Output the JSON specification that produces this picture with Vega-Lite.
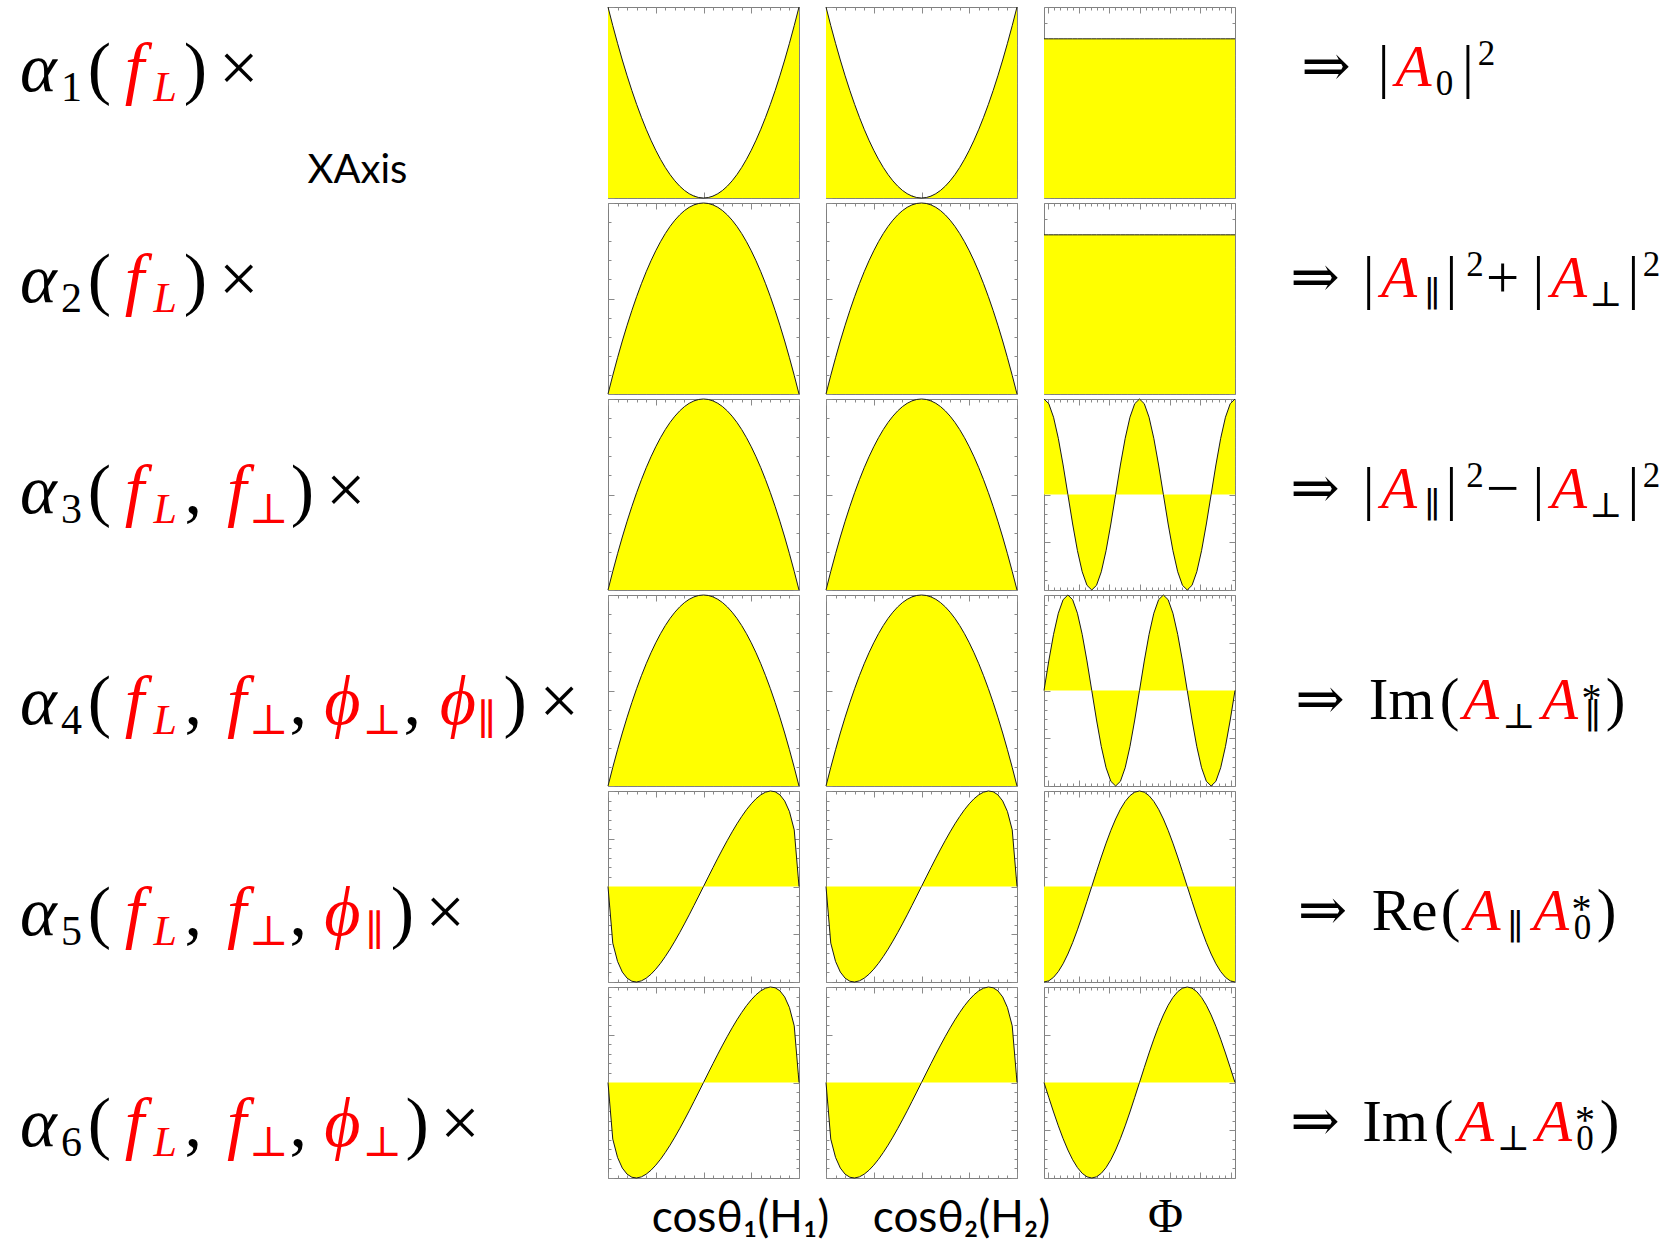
{
  "$schema": "https://vega.github.io/schema/vega-lite/v6.json",
  "padding": {"left": 0, "top": 4, "right": 0, "bottom": 0},
  "background": "white",
  "datasets": {
    "curves": [
      {"x":-1,"phi":-3.1416,"sq":1,"om":0,"st":0,"c2":1,"s2":0,"c1":-1,"s1":0,"one":1},
      {"x":-0.95,"phi":-2.9845,"sq":0.9025,"om":0.0975,"st":-0.593,"c2":0.951,"s2":0.309,"c1":-0.988,"s1":-0.156,"one":1},
      {"x":-0.9,"phi":-2.8274,"sq":0.81,"om":0.19,"st":-0.785,"c2":0.809,"s2":0.588,"c1":-0.951,"s1":-0.309,"one":1},
      {"x":-0.85,"phi":-2.6704,"sq":0.7225,"om":0.2775,"st":-0.896,"c2":0.588,"s2":0.809,"c1":-0.891,"s1":-0.454,"one":1},
      {"x":-0.8,"phi":-2.5133,"sq":0.64,"om":0.36,"st":-0.96,"c2":0.309,"s2":0.951,"c1":-0.809,"s1":-0.588,"one":1},
      {"x":-0.75,"phi":-2.3562,"sq":0.5625,"om":0.4375,"st":-0.992,"c2":0,"s2":1,"c1":-0.707,"s1":-0.707,"one":1},
      {"x":-0.7,"phi":-2.1991,"sq":0.49,"om":0.51,"st":-1,"c2":-0.309,"s2":0.951,"c1":-0.588,"s1":-0.809,"one":1},
      {"x":-0.65,"phi":-2.042,"sq":0.4225,"om":0.5775,"st":-0.988,"c2":-0.588,"s2":0.809,"c1":-0.454,"s1":-0.891,"one":1},
      {"x":-0.6,"phi":-1.885,"sq":0.36,"om":0.64,"st":-0.96,"c2":-0.809,"s2":0.588,"c1":-0.309,"s1":-0.951,"one":1},
      {"x":-0.55,"phi":-1.7279,"sq":0.3025,"om":0.6975,"st":-0.919,"c2":-0.951,"s2":0.309,"c1":-0.156,"s1":-0.988,"one":1},
      {"x":-0.5,"phi":-1.5708,"sq":0.25,"om":0.75,"st":-0.866,"c2":-1,"s2":0,"c1":0,"s1":-1,"one":1},
      {"x":-0.45,"phi":-1.4137,"sq":0.2025,"om":0.7975,"st":-0.804,"c2":-0.951,"s2":-0.309,"c1":0.156,"s1":-0.988,"one":1},
      {"x":-0.4,"phi":-1.2566,"sq":0.16,"om":0.84,"st":-0.733,"c2":-0.809,"s2":-0.588,"c1":0.309,"s1":-0.951,"one":1},
      {"x":-0.35,"phi":-1.0996,"sq":0.1225,"om":0.8775,"st":-0.656,"c2":-0.588,"s2":-0.809,"c1":0.454,"s1":-0.891,"one":1},
      {"x":-0.3,"phi":-0.9425,"sq":0.09,"om":0.91,"st":-0.572,"c2":-0.309,"s2":-0.951,"c1":0.588,"s1":-0.809,"one":1},
      {"x":-0.25,"phi":-0.7854,"sq":0.0625,"om":0.9375,"st":-0.484,"c2":0,"s2":-1,"c1":0.707,"s1":-0.707,"one":1},
      {"x":-0.2,"phi":-0.6283,"sq":0.04,"om":0.96,"st":-0.392,"c2":0.309,"s2":-0.951,"c1":0.809,"s1":-0.588,"one":1},
      {"x":-0.15,"phi":-0.4712,"sq":0.0225,"om":0.9775,"st":-0.297,"c2":0.588,"s2":-0.809,"c1":0.891,"s1":-0.454,"one":1},
      {"x":-0.1,"phi":-0.3142,"sq":0.01,"om":0.99,"st":-0.199,"c2":0.809,"s2":-0.588,"c1":0.951,"s1":-0.309,"one":1},
      {"x":-0.05,"phi":-0.1571,"sq":0.0025,"om":0.9975,"st":-0.1,"c2":0.951,"s2":-0.309,"c1":0.988,"s1":-0.156,"one":1},
      {"x":0,"phi":0,"sq":0,"om":1,"st":0,"c2":1,"s2":0,"c1":1,"s1":0,"one":1},
      {"x":0.05,"phi":0.1571,"sq":0.0025,"om":0.9975,"st":0.1,"c2":0.951,"s2":0.309,"c1":0.988,"s1":0.156,"one":1},
      {"x":0.1,"phi":0.3142,"sq":0.01,"om":0.99,"st":0.199,"c2":0.809,"s2":0.588,"c1":0.951,"s1":0.309,"one":1},
      {"x":0.15,"phi":0.4712,"sq":0.0225,"om":0.9775,"st":0.297,"c2":0.588,"s2":0.809,"c1":0.891,"s1":0.454,"one":1},
      {"x":0.2,"phi":0.6283,"sq":0.04,"om":0.96,"st":0.392,"c2":0.309,"s2":0.951,"c1":0.809,"s1":0.588,"one":1},
      {"x":0.25,"phi":0.7854,"sq":0.0625,"om":0.9375,"st":0.484,"c2":0,"s2":1,"c1":0.707,"s1":0.707,"one":1},
      {"x":0.3,"phi":0.9425,"sq":0.09,"om":0.91,"st":0.572,"c2":-0.309,"s2":0.951,"c1":0.588,"s1":0.809,"one":1},
      {"x":0.35,"phi":1.0996,"sq":0.1225,"om":0.8775,"st":0.656,"c2":-0.588,"s2":0.809,"c1":0.454,"s1":0.891,"one":1},
      {"x":0.4,"phi":1.2566,"sq":0.16,"om":0.84,"st":0.733,"c2":-0.809,"s2":0.588,"c1":0.309,"s1":0.951,"one":1},
      {"x":0.45,"phi":1.4137,"sq":0.2025,"om":0.7975,"st":0.804,"c2":-0.951,"s2":0.309,"c1":0.156,"s1":0.988,"one":1},
      {"x":0.5,"phi":1.5708,"sq":0.25,"om":0.75,"st":0.866,"c2":-1,"s2":0,"c1":0,"s1":1,"one":1},
      {"x":0.55,"phi":1.7279,"sq":0.3025,"om":0.6975,"st":0.919,"c2":-0.951,"s2":-0.309,"c1":-0.156,"s1":0.988,"one":1},
      {"x":0.6,"phi":1.885,"sq":0.36,"om":0.64,"st":0.96,"c2":-0.809,"s2":-0.588,"c1":-0.309,"s1":0.951,"one":1},
      {"x":0.65,"phi":2.042,"sq":0.4225,"om":0.5775,"st":0.988,"c2":-0.588,"s2":-0.809,"c1":-0.454,"s1":0.891,"one":1},
      {"x":0.7,"phi":2.1991,"sq":0.49,"om":0.51,"st":1,"c2":-0.309,"s2":-0.951,"c1":-0.588,"s1":0.809,"one":1},
      {"x":0.75,"phi":2.3562,"sq":0.5625,"om":0.4375,"st":0.992,"c2":0,"s2":-1,"c1":-0.707,"s1":0.707,"one":1},
      {"x":0.8,"phi":2.5133,"sq":0.64,"om":0.36,"st":0.96,"c2":0.309,"s2":-0.951,"c1":-0.809,"s1":0.588,"one":1},
      {"x":0.85,"phi":2.6704,"sq":0.7225,"om":0.2775,"st":0.896,"c2":0.588,"s2":-0.809,"c1":-0.891,"s1":0.454,"one":1},
      {"x":0.9,"phi":2.8274,"sq":0.81,"om":0.19,"st":0.785,"c2":0.809,"s2":-0.588,"c1":-0.951,"s1":0.309,"one":1},
      {"x":0.95,"phi":2.9845,"sq":0.9025,"om":0.0975,"st":0.593,"c2":0.951,"s2":-0.309,"c1":-0.988,"s1":0.156,"one":1},
      {"x":1,"phi":3.1416,"sq":1,"om":0,"st":0,"c2":1,"s2":0,"c1":-1,"s1":0,"one":1}
    ],
    "labels": [
      {"side":"L","line":1,"pos":0.55,"t":"α","role":"it","hue":"k"},
      {"side":"L","line":1,"pos":1.02,"t":"1","role":"sub","hue":"k"},
      {"side":"L","line":1,"pos":1.42,"t":"(","role":"rm","hue":"k"},
      {"side":"L","line":1,"pos":1.92,"t":"f","role":"it","hue":"p"},
      {"side":"L","line":1,"pos":2.36,"t":"L","role":"subit","hue":"p"},
      {"side":"L","line":1,"pos":2.79,"t":")","role":"rm","hue":"k"},
      {"side":"L","line":1,"pos":3.41,"t":"×","role":"rm","hue":"k"},
      {"side":"L","line":1.436,"pos":5.107,"t":"XAxis","role":"note","hue":"k"},

      {"side":"L","line":2,"pos":0.55,"t":"α","role":"it","hue":"k"},
      {"side":"L","line":2,"pos":1.02,"t":"2","role":"sub","hue":"k"},
      {"side":"L","line":2,"pos":1.42,"t":"(","role":"rm","hue":"k"},
      {"side":"L","line":2,"pos":1.92,"t":"f","role":"it","hue":"p"},
      {"side":"L","line":2,"pos":2.36,"t":"L","role":"subit","hue":"p"},
      {"side":"L","line":2,"pos":2.79,"t":")","role":"rm","hue":"k"},
      {"side":"L","line":2,"pos":3.41,"t":"×","role":"rm","hue":"k"},

      {"side":"L","line":3,"pos":0.55,"t":"α","role":"it","hue":"k"},
      {"side":"L","line":3,"pos":1.02,"t":"3","role":"sub","hue":"k"},
      {"side":"L","line":3,"pos":1.42,"t":"(","role":"rm","hue":"k"},
      {"side":"L","line":3,"pos":1.92,"t":"f","role":"it","hue":"p"},
      {"side":"L","line":3,"pos":2.36,"t":"L","role":"subit","hue":"p"},
      {"side":"L","line":3,"pos":2.76,"t":",","role":"rm","hue":"k"},
      {"side":"L","line":3,"pos":3.38,"t":"f","role":"it","hue":"p"},
      {"side":"L","line":3,"pos":3.84,"t":"⊥","role":"sub","hue":"p"},
      {"side":"L","line":3,"pos":4.32,"t":")","role":"rm","hue":"k"},
      {"side":"L","line":3,"pos":4.94,"t":"×","role":"rm","hue":"k"},

      {"side":"L","line":4,"pos":0.55,"t":"α","role":"it","hue":"k"},
      {"side":"L","line":4,"pos":1.02,"t":"4","role":"sub","hue":"k"},
      {"side":"L","line":4,"pos":1.42,"t":"(","role":"rm","hue":"k"},
      {"side":"L","line":4,"pos":1.92,"t":"f","role":"it","hue":"p"},
      {"side":"L","line":4,"pos":2.36,"t":"L","role":"subit","hue":"p"},
      {"side":"L","line":4,"pos":2.76,"t":",","role":"rm","hue":"k"},
      {"side":"L","line":4,"pos":3.38,"t":"f","role":"it","hue":"p"},
      {"side":"L","line":4,"pos":3.84,"t":"⊥","role":"sub","hue":"p"},
      {"side":"L","line":4,"pos":4.26,"t":",","role":"rm","hue":"k"},
      {"side":"L","line":4,"pos":4.89,"t":"ϕ","role":"it","hue":"p"},
      {"side":"L","line":4,"pos":5.46,"t":"⊥","role":"sub","hue":"p"},
      {"side":"L","line":4,"pos":5.89,"t":",","role":"rm","hue":"k"},
      {"side":"L","line":4,"pos":6.54,"t":"ϕ","role":"it","hue":"p"},
      {"side":"L","line":4,"pos":6.95,"t":"∥","role":"sub","hue":"p"},
      {"side":"L","line":4,"pos":7.36,"t":")","role":"rm","hue":"k"},
      {"side":"L","line":4,"pos":7.99,"t":"×","role":"rm","hue":"k"},

      {"side":"L","line":5,"pos":0.55,"t":"α","role":"it","hue":"k"},
      {"side":"L","line":5,"pos":1.02,"t":"5","role":"sub","hue":"k"},
      {"side":"L","line":5,"pos":1.42,"t":"(","role":"rm","hue":"k"},
      {"side":"L","line":5,"pos":1.92,"t":"f","role":"it","hue":"p"},
      {"side":"L","line":5,"pos":2.36,"t":"L","role":"subit","hue":"p"},
      {"side":"L","line":5,"pos":2.76,"t":",","role":"rm","hue":"k"},
      {"side":"L","line":5,"pos":3.38,"t":"f","role":"it","hue":"p"},
      {"side":"L","line":5,"pos":3.84,"t":"⊥","role":"sub","hue":"p"},
      {"side":"L","line":5,"pos":4.26,"t":",","role":"rm","hue":"k"},
      {"side":"L","line":5,"pos":4.89,"t":"ϕ","role":"it","hue":"p"},
      {"side":"L","line":5,"pos":5.35,"t":"∥","role":"sub","hue":"p"},
      {"side":"L","line":5,"pos":5.75,"t":")","role":"rm","hue":"k"},
      {"side":"L","line":5,"pos":6.36,"t":"×","role":"rm","hue":"k"},

      {"side":"L","line":6,"pos":0.55,"t":"α","role":"it","hue":"k"},
      {"side":"L","line":6,"pos":1.02,"t":"6","role":"sub","hue":"k"},
      {"side":"L","line":6,"pos":1.42,"t":"(","role":"rm","hue":"k"},
      {"side":"L","line":6,"pos":1.92,"t":"f","role":"it","hue":"p"},
      {"side":"L","line":6,"pos":2.36,"t":"L","role":"subit","hue":"p"},
      {"side":"L","line":6,"pos":2.76,"t":",","role":"rm","hue":"k"},
      {"side":"L","line":6,"pos":3.38,"t":"f","role":"it","hue":"p"},
      {"side":"L","line":6,"pos":3.84,"t":"⊥","role":"sub","hue":"p"},
      {"side":"L","line":6,"pos":4.26,"t":",","role":"rm","hue":"k"},
      {"side":"L","line":6,"pos":4.89,"t":"ϕ","role":"it","hue":"p"},
      {"side":"L","line":6,"pos":5.46,"t":"⊥","role":"sub","hue":"p"},
      {"side":"L","line":6,"pos":5.96,"t":")","role":"rm","hue":"k"},
      {"side":"L","line":6,"pos":6.57,"t":"×","role":"rm","hue":"k"},

      {"side":"R","line":1,"pos":1.542,"t":"⇒","role":"rm","hue":"k"},
      {"side":"R","line":1,"pos":2.517,"t":"|","role":"rm","hue":"k"},
      {"side":"R","line":1,"pos":3.025,"t":"A","role":"it","hue":"p"},
      {"side":"R","line":1,"pos":3.551,"t":"0","role":"sub","hue":"k"},
      {"side":"R","line":1,"pos":3.949,"t":"|","role":"rm","hue":"k"},
      {"side":"R","line":1,"pos":4.263,"t":"2","role":"sup","hue":"k"},

      {"side":"R","line":2,"pos":1.356,"t":"⇒","role":"rm","hue":"k"},
      {"side":"R","line":2,"pos":2.263,"t":"|","role":"rm","hue":"k"},
      {"side":"R","line":2,"pos":2.78,"t":"A","role":"it","hue":"p"},
      {"side":"R","line":2,"pos":3.339,"t":"∥","role":"sub","hue":"k"},
      {"side":"R","line":2,"pos":3.669,"t":"|","role":"rm","hue":"k"},
      {"side":"R","line":2,"pos":4.068,"t":"2","role":"sup","hue":"k"},
      {"side":"R","line":2,"pos":4.534,"t":"+","role":"rm","hue":"k"},
      {"side":"R","line":2,"pos":5.144,"t":"|","role":"rm","hue":"k"},
      {"side":"R","line":2,"pos":5.661,"t":"A","role":"it","hue":"p"},
      {"side":"R","line":2,"pos":6.288,"t":"⊥","role":"sub","hue":"k"},
      {"side":"R","line":2,"pos":6.754,"t":"|","role":"rm","hue":"k"},
      {"side":"R","line":2,"pos":7.059,"t":"2","role":"sup","hue":"k"},

      {"side":"R","line":3,"pos":1.356,"t":"⇒","role":"rm","hue":"k"},
      {"side":"R","line":3,"pos":2.263,"t":"|","role":"rm","hue":"k"},
      {"side":"R","line":3,"pos":2.78,"t":"A","role":"it","hue":"p"},
      {"side":"R","line":3,"pos":3.339,"t":"∥","role":"sub","hue":"k"},
      {"side":"R","line":3,"pos":3.669,"t":"|","role":"rm","hue":"k"},
      {"side":"R","line":3,"pos":4.068,"t":"2","role":"sup","hue":"k"},
      {"side":"R","line":3,"pos":4.534,"t":"−","role":"rm","hue":"k"},
      {"side":"R","line":3,"pos":5.144,"t":"|","role":"rm","hue":"k"},
      {"side":"R","line":3,"pos":5.661,"t":"A","role":"it","hue":"p"},
      {"side":"R","line":3,"pos":6.288,"t":"⊥","role":"sub","hue":"k"},
      {"side":"R","line":3,"pos":6.754,"t":"|","role":"rm","hue":"k"},
      {"side":"R","line":3,"pos":7.059,"t":"2","role":"sup","hue":"k"},

      {"side":"R","line":4,"pos":1.441,"t":"⇒","role":"rm","hue":"k"},
      {"side":"R","line":4,"pos":2.822,"t":"Im","role":"rm","hue":"k"},
      {"side":"R","line":4,"pos":3.636,"t":"(","role":"rm","hue":"k"},
      {"side":"R","line":4,"pos":4.169,"t":"A","role":"it","hue":"p"},
      {"side":"R","line":4,"pos":4.814,"t":"⊥","role":"sub","hue":"k"},
      {"side":"R","line":4,"pos":5.508,"t":"A","role":"it","hue":"p"},
      {"side":"R","line":4,"pos":6.042,"t":"*","role":"star","hue":"k"},
      {"side":"R","line":4,"pos":6.059,"t":"∥","role":"sub","hue":"k"},
      {"side":"R","line":4,"pos":6.449,"t":")","role":"rm","hue":"k"},

      {"side":"R","line":5,"pos":1.483,"t":"⇒","role":"rm","hue":"k"},
      {"side":"R","line":5,"pos":2.873,"t":"Re","role":"rm","hue":"k"},
      {"side":"R","line":5,"pos":3.653,"t":"(","role":"rm","hue":"k"},
      {"side":"R","line":5,"pos":4.195,"t":"A","role":"it","hue":"p"},
      {"side":"R","line":5,"pos":4.746,"t":"∥","role":"sub","hue":"k"},
      {"side":"R","line":5,"pos":5.356,"t":"A","role":"it","hue":"p"},
      {"side":"R","line":5,"pos":5.873,"t":"*","role":"star","hue":"k"},
      {"side":"R","line":5,"pos":5.89,"t":"0","role":"sub","hue":"k"},
      {"side":"R","line":5,"pos":6.297,"t":")","role":"rm","hue":"k"},

      {"side":"R","line":6,"pos":1.356,"t":"⇒","role":"rm","hue":"k"},
      {"side":"R","line":6,"pos":2.712,"t":"Im","role":"rm","hue":"k"},
      {"side":"R","line":6,"pos":3.534,"t":"(","role":"rm","hue":"k"},
      {"side":"R","line":6,"pos":4.085,"t":"A","role":"it","hue":"p"},
      {"side":"R","line":6,"pos":4.72,"t":"⊥","role":"sub","hue":"k"},
      {"side":"R","line":6,"pos":5.407,"t":"A","role":"it","hue":"p"},
      {"side":"R","line":6,"pos":5.932,"t":"*","role":"star","hue":"k"},
      {"side":"R","line":6,"pos":5.932,"t":"0","role":"sub","hue":"k"},
      {"side":"R","line":6,"pos":6.347,"t":")","role":"rm","hue":"k"}
    ]
  },
  "spacing": 0,
  "hconcat": [
    {
      "width": 605,
      "height": 1229,
      "view": {"stroke": null},
      "data": {"name": "labels"},
      "transform": [{"filter": "datum.side === 'L'"}],
      "encoding": {
        "x": {"field": "pos", "type": "quantitative", "scale": {"domain": [0, 8.643], "nice": false, "zero": false}, "axis": null},
        "y": {"field": "line", "type": "quantitative", "scale": {"domain": [0.602, 6.427], "nice": false, "zero": false, "reverse": true}, "axis": null},
        "color": {"field": "hue", "type": "nominal", "scale": {"domain": ["k", "p"], "range": ["#000000", "#ff0000"]}, "legend": null},
        "text": {"field": "t"}
      },
      "layer": [
        {"transform": [{"filter": "datum.role === 'it'"}], "mark": {"type": "text", "font": "Liberation Serif, DejaVu Serif", "fontStyle": "italic", "fontSize": 70, "align": "center", "baseline": "alphabetic"}},
        {"transform": [{"filter": "datum.role === 'rm'"}], "mark": {"type": "text", "font": "Liberation Serif, DejaVu Serif", "fontSize": 70, "align": "center", "baseline": "alphabetic"}},
        {"transform": [{"filter": "datum.role === 'subit'"}], "mark": {"type": "text", "font": "Liberation Serif, DejaVu Serif", "fontStyle": "italic", "fontSize": 42, "dy": 10, "align": "center", "baseline": "alphabetic"}},
        {"transform": [{"filter": "datum.role === 'sub'"}], "mark": {"type": "text", "font": "Liberation Serif, DejaVu Serif", "fontSize": 42, "dy": 10, "align": "center", "baseline": "alphabetic"}},
        {"transform": [{"filter": "datum.role === 'note'"}], "mark": {"type": "text", "font": "Lato", "fontSize": 40, "align": "center", "baseline": "alphabetic"}}
      ]
    },
    {
      "data": {"name": "curves"},
      "columns": 3,
      "bounds": "flush",
      "spacing": {"row": 5, "column": 27},
      "concat": [
        {"width": 191, "height": 191, "layer": [
          {"mark": {"type": "area", "color": "#ffff00"}, "encoding": {
            "x": {"field": "x", "type": "quantitative", "scale": {"domain": [-1, 1], "nice": false, "zero": false}, "axis": {"orient": "bottom", "title": null}},
            "y": {"field": "sq", "type": "quantitative", "scale": {"domain": [0, 1], "nice": false, "zero": false}, "axis": {"orient": "left", "title": null, "tickCount": 10}}}},
          {"mark": {"type": "line", "color": "#1a1a1a", "strokeWidth": 1}, "encoding": {
            "x": {"field": "x", "type": "quantitative", "axis": {"orient": "top", "title": null}},
            "y": {"field": "sq", "type": "quantitative", "axis": {"orient": "right", "title": null, "tickCount": 10}}}}
        ], "resolve": {"axis": {"x": "independent", "y": "independent"}}},
        {"width": 191, "height": 191, "layer": [
          {"mark": {"type": "area", "color": "#ffff00"}, "encoding": {
            "x": {"field": "x", "type": "quantitative", "scale": {"domain": [-1, 1], "nice": false, "zero": false}, "axis": {"orient": "bottom", "title": null}},
            "y": {"field": "sq", "type": "quantitative", "scale": {"domain": [0, 1], "nice": false, "zero": false}, "axis": {"orient": "left", "title": null, "tickCount": 10}}}},
          {"mark": {"type": "line", "color": "#1a1a1a", "strokeWidth": 1}, "encoding": {
            "x": {"field": "x", "type": "quantitative", "axis": {"orient": "top", "title": null}},
            "y": {"field": "sq", "type": "quantitative", "axis": {"orient": "right", "title": null, "tickCount": 10}}}}
        ], "resolve": {"axis": {"x": "independent", "y": "independent"}}},
        {"width": 191, "height": 191, "layer": [
          {"mark": {"type": "area", "color": "#ffff00"}, "encoding": {
            "x": {"field": "phi", "type": "quantitative", "scale": {"domain": [-3.1416, 3.1416], "nice": false, "zero": false}, "axis": {"orient": "bottom", "title": null}},
            "y": {"field": "one", "type": "quantitative", "scale": {"domain": [0, 1.2], "nice": false, "zero": false}, "axis": {"orient": "left", "title": null, "tickCount": 12}}}},
          {"mark": {"type": "line", "color": "#1a1a1a", "strokeWidth": 1}, "encoding": {
            "x": {"field": "phi", "type": "quantitative", "axis": {"orient": "top", "title": null}},
            "y": {"field": "one", "type": "quantitative", "axis": {"orient": "right", "title": null, "tickCount": 12}}}}
        ], "resolve": {"axis": {"x": "independent", "y": "independent"}}},

        {"width": 191, "height": 191, "layer": [
          {"mark": {"type": "area", "color": "#ffff00"}, "encoding": {
            "x": {"field": "x", "type": "quantitative", "scale": {"domain": [-1, 1], "nice": false, "zero": false}, "axis": {"orient": "bottom", "title": null}},
            "y": {"field": "om", "type": "quantitative", "scale": {"domain": [0, 1], "nice": false, "zero": false}, "axis": {"orient": "left", "title": null, "tickCount": 10}}}},
          {"mark": {"type": "line", "color": "#1a1a1a", "strokeWidth": 1}, "encoding": {
            "x": {"field": "x", "type": "quantitative", "axis": {"orient": "top", "title": null}},
            "y": {"field": "om", "type": "quantitative", "axis": {"orient": "right", "title": null, "tickCount": 10}}}}
        ], "resolve": {"axis": {"x": "independent", "y": "independent"}}},
        {"width": 191, "height": 191, "layer": [
          {"mark": {"type": "area", "color": "#ffff00"}, "encoding": {
            "x": {"field": "x", "type": "quantitative", "scale": {"domain": [-1, 1], "nice": false, "zero": false}, "axis": {"orient": "bottom", "title": null}},
            "y": {"field": "om", "type": "quantitative", "scale": {"domain": [0, 1], "nice": false, "zero": false}, "axis": {"orient": "left", "title": null, "tickCount": 10}}}},
          {"mark": {"type": "line", "color": "#1a1a1a", "strokeWidth": 1}, "encoding": {
            "x": {"field": "x", "type": "quantitative", "axis": {"orient": "top", "title": null}},
            "y": {"field": "om", "type": "quantitative", "axis": {"orient": "right", "title": null, "tickCount": 10}}}}
        ], "resolve": {"axis": {"x": "independent", "y": "independent"}}},
        {"width": 191, "height": 191, "layer": [
          {"mark": {"type": "area", "color": "#ffff00"}, "encoding": {
            "x": {"field": "phi", "type": "quantitative", "scale": {"domain": [-3.1416, 3.1416], "nice": false, "zero": false}, "axis": {"orient": "bottom", "title": null}},
            "y": {"field": "one", "type": "quantitative", "scale": {"domain": [0, 1.2], "nice": false, "zero": false}, "axis": {"orient": "left", "title": null, "tickCount": 12}}}},
          {"mark": {"type": "line", "color": "#1a1a1a", "strokeWidth": 1}, "encoding": {
            "x": {"field": "phi", "type": "quantitative", "axis": {"orient": "top", "title": null}},
            "y": {"field": "one", "type": "quantitative", "axis": {"orient": "right", "title": null, "tickCount": 12}}}}
        ], "resolve": {"axis": {"x": "independent", "y": "independent"}}},

        {"width": 191, "height": 191, "layer": [
          {"mark": {"type": "area", "color": "#ffff00"}, "encoding": {
            "x": {"field": "x", "type": "quantitative", "scale": {"domain": [-1, 1], "nice": false, "zero": false}, "axis": {"orient": "bottom", "title": null}},
            "y": {"field": "om", "type": "quantitative", "scale": {"domain": [0, 1], "nice": false, "zero": false}, "axis": {"orient": "left", "title": null, "tickCount": 10}}}},
          {"mark": {"type": "line", "color": "#1a1a1a", "strokeWidth": 1}, "encoding": {
            "x": {"field": "x", "type": "quantitative", "axis": {"orient": "top", "title": null}},
            "y": {"field": "om", "type": "quantitative", "axis": {"orient": "right", "title": null, "tickCount": 10}}}}
        ], "resolve": {"axis": {"x": "independent", "y": "independent"}}},
        {"width": 191, "height": 191, "layer": [
          {"mark": {"type": "area", "color": "#ffff00"}, "encoding": {
            "x": {"field": "x", "type": "quantitative", "scale": {"domain": [-1, 1], "nice": false, "zero": false}, "axis": {"orient": "bottom", "title": null}},
            "y": {"field": "om", "type": "quantitative", "scale": {"domain": [0, 1], "nice": false, "zero": false}, "axis": {"orient": "left", "title": null, "tickCount": 10}}}},
          {"mark": {"type": "line", "color": "#1a1a1a", "strokeWidth": 1}, "encoding": {
            "x": {"field": "x", "type": "quantitative", "axis": {"orient": "top", "title": null}},
            "y": {"field": "om", "type": "quantitative", "axis": {"orient": "right", "title": null, "tickCount": 10}}}}
        ], "resolve": {"axis": {"x": "independent", "y": "independent"}}},
        {"width": 191, "height": 191, "layer": [
          {"mark": {"type": "area", "color": "#ffff00"}, "encoding": {
            "x": {"field": "phi", "type": "quantitative", "scale": {"domain": [-3.1416, 3.1416], "nice": false, "zero": false}, "axis": {"orient": "bottom", "title": null}},
            "y": {"field": "c2", "type": "quantitative", "scale": {"domain": [-1, 1], "nice": false, "zero": false}, "axis": {"orient": "left", "title": null}}}},
          {"mark": {"type": "line", "color": "#1a1a1a", "strokeWidth": 1}, "encoding": {
            "x": {"field": "phi", "type": "quantitative", "axis": {"orient": "top", "title": null}},
            "y": {"field": "c2", "type": "quantitative", "axis": {"orient": "right", "title": null}}}}
        ], "resolve": {"axis": {"x": "independent", "y": "independent"}}},

        {"width": 191, "height": 191, "layer": [
          {"mark": {"type": "area", "color": "#ffff00"}, "encoding": {
            "x": {"field": "x", "type": "quantitative", "scale": {"domain": [-1, 1], "nice": false, "zero": false}, "axis": {"orient": "bottom", "title": null}},
            "y": {"field": "om", "type": "quantitative", "scale": {"domain": [0, 1], "nice": false, "zero": false}, "axis": {"orient": "left", "title": null, "tickCount": 10}}}},
          {"mark": {"type": "line", "color": "#1a1a1a", "strokeWidth": 1}, "encoding": {
            "x": {"field": "x", "type": "quantitative", "axis": {"orient": "top", "title": null}},
            "y": {"field": "om", "type": "quantitative", "axis": {"orient": "right", "title": null, "tickCount": 10}}}}
        ], "resolve": {"axis": {"x": "independent", "y": "independent"}}},
        {"width": 191, "height": 191, "layer": [
          {"mark": {"type": "area", "color": "#ffff00"}, "encoding": {
            "x": {"field": "x", "type": "quantitative", "scale": {"domain": [-1, 1], "nice": false, "zero": false}, "axis": {"orient": "bottom", "title": null}},
            "y": {"field": "om", "type": "quantitative", "scale": {"domain": [0, 1], "nice": false, "zero": false}, "axis": {"orient": "left", "title": null, "tickCount": 10}}}},
          {"mark": {"type": "line", "color": "#1a1a1a", "strokeWidth": 1}, "encoding": {
            "x": {"field": "x", "type": "quantitative", "axis": {"orient": "top", "title": null}},
            "y": {"field": "om", "type": "quantitative", "axis": {"orient": "right", "title": null, "tickCount": 10}}}}
        ], "resolve": {"axis": {"x": "independent", "y": "independent"}}},
        {"width": 191, "height": 191, "layer": [
          {"mark": {"type": "area", "color": "#ffff00"}, "encoding": {
            "x": {"field": "phi", "type": "quantitative", "scale": {"domain": [-3.1416, 3.1416], "nice": false, "zero": false}, "axis": {"orient": "bottom", "title": null}},
            "y": {"field": "s2", "type": "quantitative", "scale": {"domain": [-1, 1], "nice": false, "zero": false}, "axis": {"orient": "left", "title": null}}}},
          {"mark": {"type": "line", "color": "#1a1a1a", "strokeWidth": 1}, "encoding": {
            "x": {"field": "phi", "type": "quantitative", "axis": {"orient": "top", "title": null}},
            "y": {"field": "s2", "type": "quantitative", "axis": {"orient": "right", "title": null}}}}
        ], "resolve": {"axis": {"x": "independent", "y": "independent"}}},

        {"width": 191, "height": 191, "layer": [
          {"mark": {"type": "area", "color": "#ffff00"}, "encoding": {
            "x": {"field": "x", "type": "quantitative", "scale": {"domain": [-1, 1], "nice": false, "zero": false}, "axis": {"orient": "bottom", "title": null}},
            "y": {"field": "st", "type": "quantitative", "scale": {"domain": [-1, 1], "nice": false, "zero": false}, "axis": {"orient": "left", "title": null}}}},
          {"mark": {"type": "line", "color": "#1a1a1a", "strokeWidth": 1}, "encoding": {
            "x": {"field": "x", "type": "quantitative", "axis": {"orient": "top", "title": null}},
            "y": {"field": "st", "type": "quantitative", "axis": {"orient": "right", "title": null}}}}
        ], "resolve": {"axis": {"x": "independent", "y": "independent"}}},
        {"width": 191, "height": 191, "layer": [
          {"mark": {"type": "area", "color": "#ffff00"}, "encoding": {
            "x": {"field": "x", "type": "quantitative", "scale": {"domain": [-1, 1], "nice": false, "zero": false}, "axis": {"orient": "bottom", "title": null}},
            "y": {"field": "st", "type": "quantitative", "scale": {"domain": [-1, 1], "nice": false, "zero": false}, "axis": {"orient": "left", "title": null}}}},
          {"mark": {"type": "line", "color": "#1a1a1a", "strokeWidth": 1}, "encoding": {
            "x": {"field": "x", "type": "quantitative", "axis": {"orient": "top", "title": null}},
            "y": {"field": "st", "type": "quantitative", "axis": {"orient": "right", "title": null}}}}
        ], "resolve": {"axis": {"x": "independent", "y": "independent"}}},
        {"width": 191, "height": 191, "layer": [
          {"mark": {"type": "area", "color": "#ffff00"}, "encoding": {
            "x": {"field": "phi", "type": "quantitative", "scale": {"domain": [-3.1416, 3.1416], "nice": false, "zero": false}, "axis": {"orient": "bottom", "title": null}},
            "y": {"field": "c1", "type": "quantitative", "scale": {"domain": [-1, 1], "nice": false, "zero": false}, "axis": {"orient": "left", "title": null}}}},
          {"mark": {"type": "line", "color": "#1a1a1a", "strokeWidth": 1}, "encoding": {
            "x": {"field": "phi", "type": "quantitative", "axis": {"orient": "top", "title": null}},
            "y": {"field": "c1", "type": "quantitative", "axis": {"orient": "right", "title": null}}}}
        ], "resolve": {"axis": {"x": "independent", "y": "independent"}}},

        {"width": 191, "height": 191, "layer": [
          {"mark": {"type": "area", "color": "#ffff00"}, "encoding": {
            "x": {"field": "x", "type": "quantitative", "scale": {"domain": [-1, 1], "nice": false, "zero": false}, "axis": {"orient": "bottom", "title": "cosθ₁(H₁)", "titleFont": "Lato, Open Sans", "titleFontSize": 44, "titleFontWeight": "normal", "titleColor": "#000000", "titleX": 132, "titleY": 53, "titleAlign": "center", "titleBaseline": "alphabetic"}},
            "y": {"field": "st", "type": "quantitative", "scale": {"domain": [-1, 1], "nice": false, "zero": false}, "axis": {"orient": "left", "title": null}}}},
          {"mark": {"type": "line", "color": "#1a1a1a", "strokeWidth": 1}, "encoding": {
            "x": {"field": "x", "type": "quantitative", "axis": {"orient": "top", "title": null}},
            "y": {"field": "st", "type": "quantitative", "axis": {"orient": "right", "title": null}}}}
        ], "resolve": {"axis": {"x": "independent", "y": "independent"}}},
        {"width": 191, "height": 191, "layer": [
          {"mark": {"type": "area", "color": "#ffff00"}, "encoding": {
            "x": {"field": "x", "type": "quantitative", "scale": {"domain": [-1, 1], "nice": false, "zero": false}, "axis": {"orient": "bottom", "title": "cosθ₂(H₂)", "titleFont": "Lato, Open Sans", "titleFontSize": 44, "titleFontWeight": "normal", "titleColor": "#000000", "titleX": 135, "titleY": 53, "titleAlign": "center", "titleBaseline": "alphabetic"}},
            "y": {"field": "st", "type": "quantitative", "scale": {"domain": [-1, 1], "nice": false, "zero": false}, "axis": {"orient": "left", "title": null}}}},
          {"mark": {"type": "line", "color": "#1a1a1a", "strokeWidth": 1}, "encoding": {
            "x": {"field": "x", "type": "quantitative", "axis": {"orient": "top", "title": null}},
            "y": {"field": "st", "type": "quantitative", "axis": {"orient": "right", "title": null}}}}
        ], "resolve": {"axis": {"x": "independent", "y": "independent"}}},
        {"width": 191, "height": 191, "layer": [
          {"mark": {"type": "area", "color": "#ffff00"}, "encoding": {
            "x": {"field": "phi", "type": "quantitative", "scale": {"domain": [-3.1416, 3.1416], "nice": false, "zero": false}, "axis": {"orient": "bottom", "title": "Φ", "titleFont": "Liberation Serif", "titleFontSize": 48, "titleFontWeight": "normal", "titleColor": "#000000", "titleX": 121, "titleY": 53, "titleAlign": "center", "titleBaseline": "alphabetic"}},
            "y": {"field": "s1", "type": "quantitative", "scale": {"domain": [-1, 1], "nice": false, "zero": false}, "axis": {"orient": "left", "title": null}}}},
          {"mark": {"type": "line", "color": "#1a1a1a", "strokeWidth": 1}, "encoding": {
            "x": {"field": "phi", "type": "quantitative", "axis": {"orient": "top", "title": null}},
            "y": {"field": "s1", "type": "quantitative", "axis": {"orient": "right", "title": null}}}}
        ], "resolve": {"axis": {"x": "independent", "y": "independent"}}}
      ]
    },
    {
      "width": 440,
      "height": 1229,
      "view": {"stroke": null},
      "data": {"name": "labels"},
      "transform": [{"filter": "datum.side === 'R'"}],
      "encoding": {
        "x": {"field": "pos", "type": "quantitative", "scale": {"domain": [0.05, 7.508], "nice": false, "zero": false}, "axis": null},
        "y": {"field": "line", "type": "quantitative", "scale": {"domain": [0.626, 6.451], "nice": false, "zero": false, "reverse": true}, "axis": null},
        "color": {"field": "hue", "type": "nominal", "scale": {"domain": ["k", "p"], "range": ["#000000", "#ff0000"]}, "legend": null},
        "text": {"field": "t"}
      },
      "layer": [
        {"transform": [{"filter": "datum.role === 'it'"}], "mark": {"type": "text", "font": "Liberation Serif, DejaVu Serif", "fontStyle": "italic", "fontSize": 59, "align": "center", "baseline": "alphabetic"}},
        {"transform": [{"filter": "datum.role === 'rm'"}], "mark": {"type": "text", "font": "Liberation Serif, DejaVu Serif", "fontSize": 59, "align": "center", "baseline": "alphabetic"}},
        {"transform": [{"filter": "datum.role === 'sub'"}], "mark": {"type": "text", "font": "Liberation Serif, DejaVu Serif", "fontSize": 35, "dy": 9, "align": "center", "baseline": "alphabetic"}},
        {"transform": [{"filter": "datum.role === 'sup'"}], "mark": {"type": "text", "font": "Liberation Serif, DejaVu Serif", "fontSize": 35, "dy": -21, "align": "center", "baseline": "alphabetic"}},
        {"transform": [{"filter": "datum.role === 'star'"}], "mark": {"type": "text", "font": "Liberation Serif, DejaVu Serif", "fontSize": 40, "dy": -8, "align": "center", "baseline": "alphabetic"}}
      ]
    }
  ],
  "config": {
    "view": {"stroke": "#808080", "strokeWidth": 1},
    "axis": {
      "labels": false,
      "domain": false,
      "grid": false,
      "ticks": true,
      "tickColor": "#8a8a8a",
      "tickWidth": 1,
      "tickCount": 20,
      "zindex": 1,
      "tickSize": {"condition": {"test": "datum.value % 0.5 === 0", "value": -6}, "value": -3}
    }
  }
}
